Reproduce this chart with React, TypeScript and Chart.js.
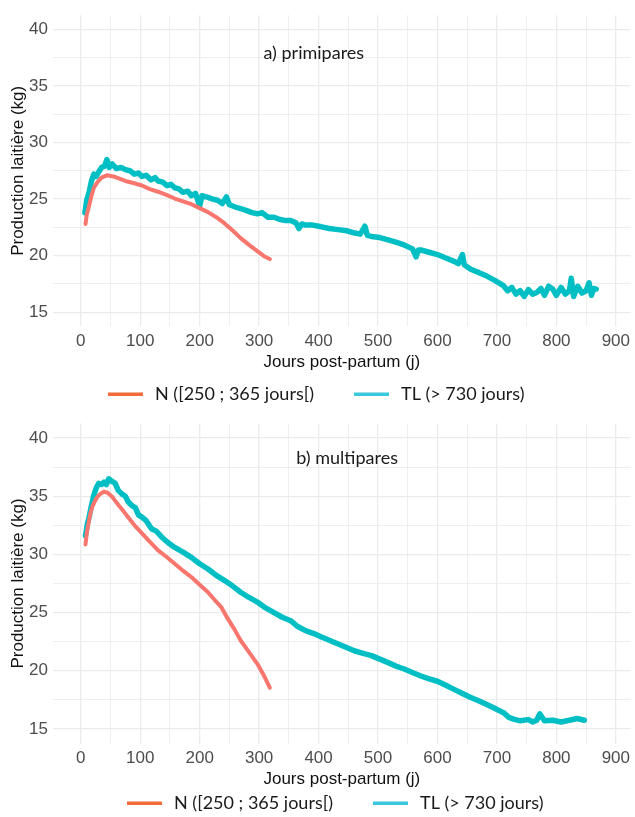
import React, { useEffect, useRef } from "react";
import { Chart, registerables } from "chart.js";
Chart.register(...registerables);

// ---------- data ----------
const xTickLabels = [0, 100, 200, 300, 400, 500, 600, 700, 800, 900];
const yTickLabels = [15, 20, 25, 30, 35, 40];
const seriesNames = ["N ([250 ; 365 jours[)", "TL (> 730 jours)"];
const panelTitles = ["a) primipares", "b) multipares"];
const xTitle = "Jours post-partum (j)";
const yTitle = "Production laitière (kg)";

// a) primipares — N
const daysNa = [8, 10, 14, 18, 22, 28, 35, 44, 55, 65, 75, 90, 103, 115, 130, 145, 158, 172, 186, 200, 214, 228, 242, 256, 269, 283, 297, 310, 318];
const prodNa = [22.8, 23.6, 24.4, 25.3, 26.0, 26.5, 26.9, 27.1, 27.0, 26.8, 26.6, 26.4, 26.2, 25.9, 25.65, 25.35, 25.05, 24.8, 24.55, 24.2, 23.85, 23.4, 22.85, 22.2, 21.55, 20.95, 20.4, 19.9, 19.7];

// a) primipares — TL
const daysTLa = [7, 10, 14, 18, 22, 26, 30, 35, 40, 44, 48, 53, 60, 68, 75, 83, 90, 97, 103, 110, 118, 125, 130, 138, 145, 152, 158, 165, 172, 180, 186, 193, 200, 204, 214, 222, 230, 238, 245, 250, 260, 269, 278, 288, 297, 305, 315, 325, 335, 345, 353, 362, 367, 372, 378, 390, 405, 418, 433, 447, 461, 470, 478, 482, 489, 503, 517, 530, 544, 558, 564, 568, 572, 586, 600, 614, 628, 635, 642, 645, 656, 670, 683, 697, 711, 718, 725, 732, 739, 746, 753, 760, 767, 774, 780, 787, 794, 800, 808, 815, 822, 825, 829, 836, 843, 850, 855, 859, 863, 867];
const prodTLa = [23.8, 24.9, 25.6, 26.6, 27.2, 27.0, 27.4, 27.8, 27.9, 28.5, 27.8, 28.1, 27.7, 27.8, 27.6, 27.5, 27.2, 27.3, 27.0, 27.1, 26.7, 26.9, 26.6, 26.5, 26.2, 26.3, 26.0, 25.9, 25.6, 25.7, 25.3, 25.5, 24.4, 25.3, 25.15, 25.0, 24.9, 24.6, 25.2, 24.5, 24.3, 24.15, 24.0, 23.8, 23.7, 23.8, 23.4, 23.4, 23.2, 23.1, 23.1, 22.9, 22.4, 22.8, 22.7, 22.7, 22.55, 22.4, 22.3, 22.2, 22.0, 21.9, 22.6, 21.8, 21.7, 21.6, 21.4, 21.2, 20.95, 20.6, 19.9, 20.5, 20.5, 20.3, 20.1, 19.8, 19.5, 19.3, 20.1, 19.2, 18.8, 18.5, 18.2, 17.8, 17.35, 16.9, 17.2, 16.6, 16.9, 16.4, 17.0, 16.6, 16.75, 17.1, 16.5, 17.3, 17.05, 16.5, 17.2, 16.6, 16.9, 18.0, 16.4, 17.3, 16.7, 16.9, 17.6, 16.5, 17.1, 17.05];

// b) multipares — N
const daysNb = [8, 10, 13, 16, 19.5, 24, 28, 33, 39, 45, 53, 58, 64, 72, 81, 92, 103, 116, 130, 144, 158, 172, 186, 200, 214, 225, 236, 247, 258, 269, 283, 297, 308, 318];
const prodNb = [30.86, 31.8, 32.65, 33.5, 34.1, 34.6, 34.95, 35.2, 35.4, 35.3, 34.95, 34.6, 34.2, 33.7, 33.1, 32.4, 31.8, 31.1, 30.35, 29.8, 29.2, 28.6, 28.05, 27.4, 26.75, 26.1, 25.5, 24.5, 23.6, 22.6, 21.6, 20.6, 19.6, 18.55];

// b) multipares — TL
const daysTLb = [8, 11, 14, 18, 22, 26, 30, 35, 39, 43, 47, 52, 58, 63, 69, 75, 80, 86, 92, 97, 103, 110, 119, 127, 136, 147, 158, 172, 186, 200, 214, 228, 242, 255, 269, 283, 297, 311, 325, 339, 353, 365, 378, 392, 405, 419, 433, 447, 461, 475, 489, 503, 517, 530, 544, 558, 572, 586, 600, 614, 628, 642, 656, 670, 683, 697, 711, 720, 728, 739, 753, 760, 767, 772, 780, 794, 808, 822, 835, 847];
const prodTLb = [31.6, 32.6, 33.2, 34.2, 35.1, 35.7, 36.1, 36.0, 36.2, 36.0, 36.5, 36.3, 36.1, 35.5, 35.2, 35.0, 34.5, 34.2, 34.0, 33.4, 33.2, 32.9, 32.2, 32.0, 31.5, 31.0, 30.6, 30.2, 29.75, 29.2, 28.75, 28.2, 27.75, 27.3, 26.75, 26.3, 25.9, 25.4, 25.0, 24.6, 24.3, 23.8, 23.45, 23.2, 22.9, 22.6, 22.3, 22.0, 21.7, 21.5, 21.3, 21.0, 20.7, 20.4, 20.15, 19.85, 19.55, 19.3, 19.1, 18.75, 18.4, 18.05, 17.7, 17.4, 17.1, 16.75, 16.4, 16.0, 15.85, 15.7, 15.8, 15.6, 15.75, 16.3, 15.7, 15.75, 15.6, 15.75, 15.9, 15.75];

// ---------- styles ----------
const LINE_N = "#F8766D";
const LINE_TL = "#00BFC4";
const LEG_N = "#F26B38";
const LEG_TL = "#3CC8DC";
const GRID = "#EBEBEB";
const AXIS_FONT = "'Liberation Sans', Arial, sans-serif";
const NOTE_FONT = "Lato, 'Open Sans', sans-serif";

const toPts = (xs: number[], ys: number[]) => xs.map((x, i) => ({ x, y: ys[i] }));
const withMinor = (ticks: number[]) => {
  const out: number[] = [];
  ticks.forEach((t, i) => {
    out.push(t);
    if (i < ticks.length - 1) out.push((t + ticks[i + 1]) / 2);
  });
  return out;
};

type PanelCfg = {
  height: number;
  padTop: number;
  padBottom: number;
  title: string;
  titleX: number;
  titleY: number;
  legendLeft: number;
  legendY: number;
  n: { x: number; y: number }[];
  tl: { x: number; y: number }[];
};

function makeChart(canvas: HTMLCanvasElement, p: PanelCfg) {
  const xGrid = withMinor(xTickLabels);
  const yGrid = withMinor(yTickLabels);
  const notePlugin = {
    id: "note",
    afterDraw(chart: any) {
      const { ctx, scales } = chart;
      ctx.save();
      ctx.font = `18px ${NOTE_FONT}`;
      ctx.fillStyle = "#1a1a1a";
      ctx.textAlign = "center";
      ctx.textBaseline = "middle";
      ctx.fillText(p.title, scales.x.getPixelForValue(p.titleX), scales.y.getPixelForValue(p.titleY));
      // legend
      ctx.textAlign = "left";
      let x = p.legendLeft;
      const cols = [LEG_N, LEG_TL];
      seriesNames.forEach((name, i) => {
        ctx.fillStyle = cols[i];
        ctx.fillRect(x, p.legendY - 1.5, 35, 3.5);
        x += 35 + 12;
        ctx.fillStyle = "#1a1a1a";
        ctx.fillText(name, x, p.legendY);
        x += ctx.measureText(name).width + 40;
      });
      ctx.restore();
    },
  };
  return new Chart(canvas, {
    type: "line",
    data: {
      datasets: [
        { label: seriesNames[0], data: p.n, borderColor: LINE_N, backgroundColor: LINE_N, borderWidth: 4, pointRadius: 0, tension: 0, borderJoinStyle: "round", borderCapStyle: "round" },
        { label: seriesNames[1], data: p.tl, borderColor: LINE_TL, backgroundColor: LINE_TL, borderWidth: 5.5, pointRadius: 0, tension: 0, borderJoinStyle: "round", borderCapStyle: "round" },
      ],
    },
    options: {
      animation: false,
      responsive: false,
      devicePixelRatio: 1,
      layout: { padding: { top: p.padTop, bottom: p.padBottom, left: 0, right: 0 } },
      plugins: { legend: { display: false }, tooltip: { enabled: false } },
      scales: {
        x: {
          type: "linear",
          min: -46.7,
          max: 925,
          afterBuildTicks: (s: any) => { s.ticks = xGrid.map((v) => ({ value: v })); },
          afterFit: (s: any) => { s.height = 46; },
          ticks: {
            autoSkip: false,
            maxRotation: 0,
            padding: 5,
            color: "#4D4D4D",
            font: { family: AXIS_FONT, size: 17, lineHeight: 1.2 },
            callback: (v: any) => (xTickLabels.includes(v) ? String(v) : ""),
          },
          grid: { color: GRID, drawTicks: false, lineWidth: (c: any) => (c.tick && xTickLabels.includes(c.tick.value) ? 1.3 : 0.8) },
          border: { display: false },
          title: { display: true, text: xTitle, color: "#111", font: { family: AXIS_FONT, size: 17, lineHeight: 1.2 }, padding: { top: 0, bottom: 0 } },
        },
        y: {
          type: "linear",
          min: 13.75,
          max: 41.25,
          afterBuildTicks: (s: any) => { s.ticks = yGrid.map((v) => ({ value: v })); },
          afterFit: (s: any) => { s.width = 53; },
          ticks: {
            autoSkip: false,
            padding: 5,
            color: "#4D4D4D",
            font: { family: AXIS_FONT, size: 17, lineHeight: 1.2 },
            callback: (v: any) => (yTickLabels.includes(v) ? String(v) : ""),
          },
          grid: { color: GRID, drawTicks: false, lineWidth: (c: any) => (c.tick && yTickLabels.includes(c.tick.value) ? 1.3 : 0.8) },
          border: { display: false },
          title: { display: true, text: yTitle, color: "#111", font: { family: AXIS_FONT, size: 17, lineHeight: 1.2 }, padding: { top: 8, bottom: 0 } },
        },
      },
    } as any,
    plugins: [notePlugin],
  });
}

const panels: PanelCfg[] = [
  { height: 408, padTop: 10, padBottom: 35.6, title: panelTitles[0], titleX: 392, titleY: 37.9, legendLeft: 108, legendY: 394, n: toPts(daysNa, prodNa), tl: toPts(daysTLa, prodTLa) },
  { height: 409, padTop: 15.5, padBottom: 27.5, title: panelTitles[1], titleX: 448, titleY: 38.3, legendLeft: 127, legendY: 395, n: toPts(daysNb, prodNb), tl: toPts(daysTLb, prodTLb) },
];

function Panel({ cfg }: { cfg: PanelCfg }) {
  const ref = useRef<HTMLCanvasElement | null>(null);
  useEffect(() => {
    if (!ref.current) return;
    const c = makeChart(ref.current, cfg);
    return () => c.destroy();
  }, [cfg]);
  return <canvas ref={ref} width={635} height={cfg.height} style={{ display: "block", width: 635, height: cfg.height }} />;
}

export default function App() {
  return (
    <div style={{ position: "absolute", left: 0, top: 0, width: 635, height: 817, background: "#fff" }}>
      {panels.map((p, i) => (
        <Panel key={i} cfg={p} />
      ))}
    </div>
  );
}
